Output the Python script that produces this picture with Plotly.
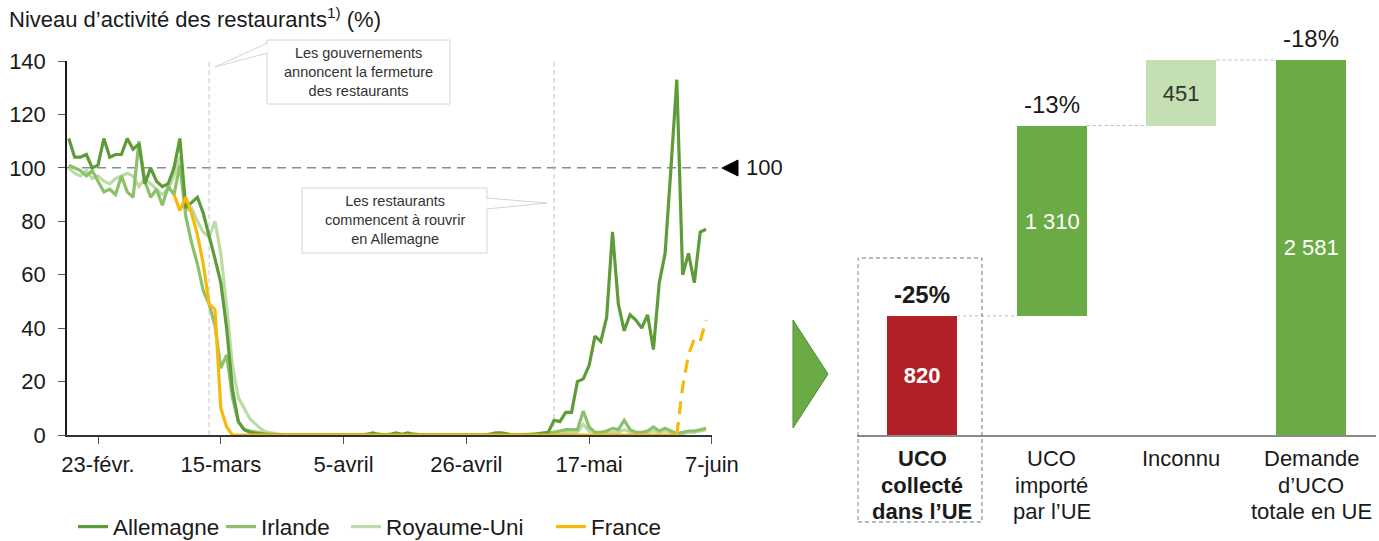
import plotly.graph_objects as go
import pandas as pd

W, H = 1379, 541
FONT = "Liberation Sans, Arial, Helvetica, sans-serif"

# ---------------- data ----------------
start_date = "2020-02-18"
n_days = 110

allemagne = [
    111, 104, 104, 105, 100, 101, 111, 104, 105, 105,
    111, 107, 109, 94, 100, 95, 93, 94, 100, 111,
    85, 87, 89, 83, 75, 66, 57, 40, 17, 5,
    2, 1, 0.5, 0.3, 0.2, 0, 0, 0, 0, 0,
    0, 0, 0, 0, 0, 0, 0, 0, 0, 0,
    0, 0.3, 0.8, 0.3, 0, 0.3, 0.8, 0.3, 0.8, 0.3,
    0, 0, 0, 0, 0, 0, 0, 0, 0, 0,
    0, 0, 0.3, 0.8, 0.8, 0.3, 0, 0, 0, 0.2,
    0.4, 0.6, 1, 5.5, 5, 8.5, 8.5, 20, 21, 26,
    37, 35, 44, 76, 49, 39, 45, 43, 40, 45,
    32, 57, 68, 100, 133, 60, 68, 57, 76, 77,
]
irlande = [
    101, 100, 99, 97, 99, 95, 91, 92, 90, 97,
    91, 89, 110, 95, 89, 92, 86, 93, 90, 101,
    82, 72, 64, 54, 49, 41, 25, 30, 14, 5,
    2, 1.5, 1, 0.5, 0.3, 0.2, 0, 0, 0, 0,
    0, 0, 0, 0, 0, 0, 0, 0, 0, 0,
    0, 0, 0, 0, 0, 0, 0, 0, 0, 0,
    0, 0, 0, 0, 0, 0, 0, 0, 0, 0,
    0, 0, 0, 0, 0, 0, 0, 0, 0, 0,
    0.2, 0.4, 0.6, 1, 1.5, 2, 2, 2, 9, 3,
    1, 1, 1.5, 2.5, 2, 5.5, 2, 1, 1, 1.5,
    3, 1.5, 2.5, 1.5, 0.5, 1, 1.5, 1.5, 2, 2.5,
]
royaume_uni = [
    100, 98, 97, 99, 96, 97, 95, 94, 96, 97,
    98, 97, 93, 96, 94, 92, 90, 92, 97, 104,
    84, 85, 80, 76, 74, 80, 68, 48, 26, 14,
    10, 6, 4, 2, 1, 0.5, 0.3, 0, 0, 0,
    0, 0, 0, 0, 0, 0, 0, 0, 0, 0,
    0, 0, 0, 0, 0, 0, 0, 0, 0, 0,
    0, 0, 0, 0, 0, 0, 0, 0, 0, 0,
    0, 0, 0, 0, 0, 0, 0, 0, 0, 0,
    0.2, 0.3, 0.5, 0.5, 1, 1, 1, 1, 4, 1.5,
    1, 0.5, 1, 1, 1, 2, 1, 0.5, 0.5, 1,
    1.5, 1, 1.5, 1, 0.5, 0.5, 1, 1, 1.5, 2,
]
france = [
    None, None, None, None, None, None, None, None, None, None,
    None, None, None, None, None, None, None, None, 90, 84,
    89, 83, 75, 64, 49, 47, 10, 3, 0, 0,
    0, 0, 0, 0, 0, 0, 0, 0, 0, 0,
    0, 0, 0, 0, 0, 0, 0, 0, 0, 0,
    0, 0, 0, 0, 0, 0, 0, 0, 0, 0,
    0, 0, 0, 0, 0, 0, 0, 0, 0, 0,
    0, 0, 0, 0, 0, 0, 0, 0, 0, 0,
    0, 0, 0, 0, 0, 0, 0, 0, 0, 0,
    0, 0, 0, 0, 0, 0, 0, 0, 0, 0,
    0, 0, 0, 0, 0, 18, 30, 36, 35, 43,
]
france_dash_from = 104  # index where the France series becomes dashed

x_tick_dates = ["2020-02-23", "2020-03-15", "2020-04-05", "2020-04-26", "2020-05-17", "2020-06-07"]
x_tick_labels = ["23-févr.", "15-mars", "5-avril", "26-avril", "17-mai", "7-juin"]
y_ticks = [0, 20, 40, 60, 80, 100, 120, 140]
reference_level = 100
event_dates = ["2020-03-13", "2020-05-11"]
event_texts = [
    "Les gouvernements<br>annoncent la fermeture<br>des restaurants",
    "Les restaurants<br>commencent à rouvrir<br>en Allemagne",
]

uco_categories = [
    ["UCO", "collecté", "dans l’UE"],
    ["UCO", "importé", "par l’UE"],
    ["Inconnu"],
    ["Demande", "d’UCO", "totale en UE"],
]
uco_category_bold = [True, False, False, False]
uco_values = [820, 1310, 451, 2581]
uco_measures = ["absolute", "relative", "relative", "total"]
uco_value_labels = ["<b>820</b>", "1 310", "451", "2 581"]
uco_changes = ["<b>-25%</b>", "-13%", None, "-18%"]

# ---------------- helpers ----------------
def px(x):
    return x / W


def py(y):
    return (H - y) / H


dates = pd.date_range(start_date, periods=n_days, freq="D")

C_DE = "#5E9C3A"
C_IE = "#8CC06B"
C_UK = "#BCDCA6"
C_FR = "#F6B90C"

fig = go.Figure()

series = [
    ("Royaume-Uni", royaume_uni, C_UK, "legend3"),
    ("Irlande", irlande, C_IE, "legend2"),
    ("Allemagne", allemagne, C_DE, "legend"),
]
for name, vals, col, leg in series:
    fig.add_trace(go.Scatter(
        x=dates, y=vals, mode="lines", name=name, legend=leg,
        line=dict(color=col, width=3.2), cliponaxis=False,
        xaxis="x", yaxis="y",
    ))

fig.add_trace(go.Scatter(
    x=dates[:france_dash_from + 1], y=france[:france_dash_from + 1], mode="lines",
    name="France", legend="legend4", line=dict(color=C_FR, width=3.2), cliponaxis=False,
    xaxis="x", yaxis="y",
))
fig.add_trace(go.Scatter(
    x=dates[france_dash_from:], y=france[france_dash_from:], mode="lines",
    name="France", showlegend=False, line=dict(color=C_FR, width=3.2, dash="13px,8px"),
    cliponaxis=False, xaxis="x", yaxis="y",
))

# ---------------- waterfall ----------------
bases = []
running = 0
for v, m in zip(uco_values, uco_measures):
    if m == "absolute" or m == "total":
        bases.append(0)
        running = v
    else:
        bases.append(running)
        running += v
tops = [b + v for b, v in zip(bases, uco_values)]

bar_colors = ["#B21F24", "#6AAB45", "#C4DFB2", "#6AAB45"]
text_colors = ["white", "white", "#333333", "white"]
bar_w = 0.54
xs = list(range(len(uco_values)))

fig.add_trace(go.Bar(
    x=xs, y=uco_values, base=bases, width=bar_w,
    marker=dict(color=bar_colors, line=dict(width=0)),
    text=uco_value_labels, textposition="inside", insidetextanchor="middle",
    textangle=0, textfont=dict(size=22, color=text_colors, family=FONT),
    showlegend=False, xaxis="x2", yaxis="y2", hoverinfo="skip",
))

shapes = []
annotations = []

# connectors
for i in range(len(xs) - 1):
    shapes.append(dict(type="line", xref="x2", yref="y2",
                       x0=xs[i] + bar_w / 2, x1=xs[i + 1] - bar_w / 2,
                       y0=tops[i], y1=tops[i],
                       line=dict(color="#BBBBBB", width=1, dash="dot")))

for i, t in enumerate(uco_changes):
    if t:
        annotations.append(dict(xref="x2", yref="y2", x=xs[i], y=tops[i], text=t,
                                showarrow=False, yanchor="bottom", yshift=6,
                                font=dict(size=24, color="#1a1a1a", family=FONT)))

line_centres = [458, 485, 511]
for i, lines in enumerate(uco_categories):
    for j, ln in enumerate(lines):
        txt = f"<b>{ln}</b>" if uco_category_bold[i] else ln
        annotations.append(dict(xref="x2", yref="paper", x=xs[i], y=py(line_centres[j]), text=txt,
                                showarrow=False, yanchor="middle", align="center",
                                font=dict(size=22, color="#1a1a1a", family=FONT)))

# dashed box around first category
shapes.append(dict(type="rect", xref="x2", yref="paper", x0=-0.494, x1=0.462,
                   y0=py(522), y1=py(258), line=dict(color="#777777", width=1, dash="4px,3px"),
                   fillcolor="rgba(0,0,0,0)"))

# green arrow triangle
shapes.append(dict(type="path", xref="paper", yref="paper",
                   path=f"M {px(793)},{py(320)} L {px(828)},{py(374)} L {px(793)},{py(428)} Z",
                   fillcolor="#6AAB45", line=dict(color="#4E8A33", width=1)))

# ---------------- left chart decorations ----------------
shapes.append(dict(type="line", xref="paper", yref="y", x0=px(67), x1=px(718),
                   y0=reference_level, y1=reference_level,
                   line=dict(color="#8C8C8C", width=1.5, dash="9px,6px"), layer="below"))
shapes.append(dict(type="path", xref="paper", yref="paper",
                   path=f"M {px(738)},{py(160)} L {px(722)},{py(168)} L {px(738)},{py(176)} Z",
                   fillcolor="black", line=dict(color="black", width=1)))
annotations.append(dict(xref="paper", yref="y", x=px(744), y=reference_level, text=str(reference_level),
                        showarrow=False, xanchor="left", yanchor="middle",
                        font=dict(size=22, color="#1a1a1a", family=FONT)))

for d in event_dates:
    shapes.append(dict(type="line", xref="x", yref="paper", x0=d, x1=d,
                       y0=py(435), y1=py(62),
                       line=dict(color="#C4C4C4", width=1, dash="5px,3px"), layer="below"))

# callout 1
shapes.append(dict(type="rect", xref="paper", yref="paper", x0=px(267), x1=px(450),
                   y0=py(104), y1=py(40), fillcolor="white", line=dict(color="#D4D4D4", width=1)))
shapes.append(dict(type="path", xref="paper", yref="paper",
                   path=f"M {px(267.5)},{py(43)} L {px(215)},{py(67)} L {px(267.5)},{py(53)}",
                   fillcolor="white", line=dict(color="#D4D4D4", width=1)))
annotations.append(dict(xref="paper", yref="paper", x=px(358.5), y=py(72), text=event_texts[0],
                        showarrow=False, align="center", xanchor="center", yanchor="middle",
                        font=dict(size=14.5, color="#333333", family=FONT)))
# callout 2
shapes.append(dict(type="rect", xref="paper", yref="paper", x0=px(302), x1=px(487),
                   y0=py(253), y1=py(188), fillcolor="white", line=dict(color="#D4D4D4", width=1)))
shapes.append(dict(type="path", xref="paper", yref="paper",
                   path=f"M {px(486.5)},{py(198)} L {px(547)},{py(203)} L {px(486.5)},{py(209)}",
                   fillcolor="white", line=dict(color="#D4D4D4", width=1)))
annotations.append(dict(xref="paper", yref="paper", x=px(394.5), y=py(220), text=event_texts[1],
                        showarrow=False, align="center", xanchor="center", yanchor="middle",
                        font=dict(size=14.5, color="#333333", family=FONT)))

# title
annotations.append(dict(xref="paper", yref="paper", x=px(7), y=py(18),
                        text="Niveau d’activité des restaurants<sup>1)</sup> (%)",
                        showarrow=False, xanchor="left", yanchor="middle",
                        font=dict(size=22, color="#1a1a1a", family=FONT)))

legend_positions = {"legend": 73, "legend2": 221, "legend3": 346, "legend4": 551}
legend_layouts = {}
for key, xpos in legend_positions.items():
    legend_layouts[key] = dict(orientation="h", x=px(xpos), xanchor="left", y=py(527),
                               yanchor="middle", font=dict(size=22.5, color="#1a1a1a", family=FONT),
                               itemwidth=30, bgcolor="rgba(0,0,0,0)")

fig.update_layout(
    width=W, height=H,
    margin=dict(l=0, r=0, t=0, b=0, autoexpand=False),
    paper_bgcolor="white", plot_bgcolor="white",
    font=dict(family=FONT, size=22, color="#1a1a1a"),
    showlegend=True,
    **legend_layouts,
    xaxis=dict(domain=[px(67), px(712)], anchor="y", type="date",
               range=["2020-02-17 16:36", "2020-06-07 00:30"],
               tickvals=x_tick_dates, ticktext=x_tick_labels,
               ticks="outside", ticklen=7, tickwidth=1, tickcolor="#555555",
               showline=True, linecolor="#333333", linewidth=1.5,
               showgrid=False, zeroline=False, automargin=False,
               ticklabelstandoff=2,
               tickfont=dict(size=22, color="#1a1a1a", family=FONT)),
    yaxis=dict(domain=[py(435), py(61)], anchor="x", range=[0, 140],
               tickvals=y_ticks, ticks="outside", ticklen=7, tickwidth=1, tickcolor="#555555",
               showline=True, linecolor="#1a1a1a", linewidth=1.5,
               showgrid=False, zeroline=False, automargin=False,
               ticklabelstandoff=8,
               tickfont=dict(size=22, color="#1a1a1a", family=FONT)),
    xaxis2=dict(domain=[px(857.2), px(1376)], anchor="y2", range=[-0.5, 3.5],
                showline=True, linecolor="#8A8A8A", linewidth=2, automargin=False,
                showticklabels=False, ticks="", showgrid=False, zeroline=False),
    yaxis2=dict(domain=[py(435), py(30)], anchor="x2", range=[0, 2581 * 405 / 375],
                visible=False, showgrid=False, zeroline=False, automargin=False),
    shapes=shapes,
    annotations=annotations,
    bargap=0,
)

fig.write_html("out.html")
